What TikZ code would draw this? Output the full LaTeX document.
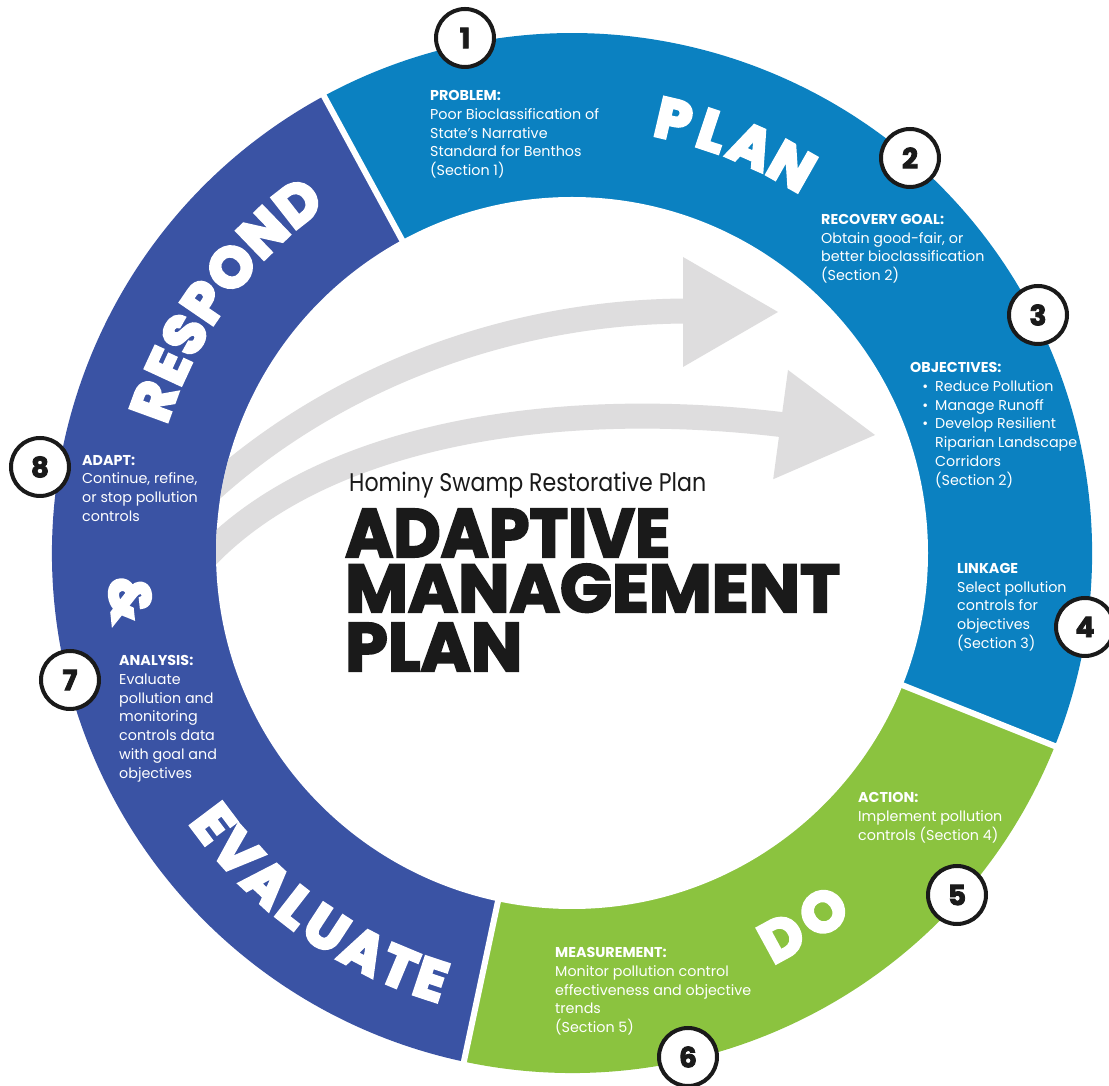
\documentclass[tikz,border=0pt]{standalone}
\usepackage{fontspec}
\setmainfont{Poppins}
\newfontfamily\ringfont{Poppins}[FakeBold=6]
\newfontfamily\titlefont{Poppins}[FakeBold=3]
\usepackage{graphicx}
\usetikzlibrary{calc}
\definecolor{planblue}{HTML}{0B81C1}
\definecolor{darkblue}{HTML}{3A53A4}
\definecolor{dogreen}{HTML}{8BC33F}
\definecolor{arrowgray}{HTML}{DEDDDE}
\definecolor{ink}{HTML}{1A1A1A}
\begin{document}
\begin{tikzpicture}[x=1pt,y=1pt,
  txt/.style={anchor=north west, inner sep=0pt, align=left, text=white, font=\fontsize{14.3}{18.7}\selectfont},
  num/.style={circle, draw=ink, line width=4pt, fill=white, minimum size=58pt, inner sep=0pt, font=\titlefont\bfseries\fontsize{28}{28}\selectfont, text=ink},
  ringword/.style={inner sep=0pt, text=white, font=\ringfont\bfseries\fontsize{56}{56}\selectfont},
  sepline/.style={white, line width=6pt},
  shaft/.style={arrowgray, line width=25pt},
  head/.style={fill=arrowgray},
  title/.style={inner sep=0pt, anchor=base west, text=ink},
]
\useasboundingbox (0,0) rectangle (1109,1085);
\coordinate (C) at (572,532);
% ring sectors
\fill[planblue] (C) -- ++(-21.8:520) arc[start angle=-21.8, end angle=118.5, radius=520] -- cycle;
\fill[darkblue] (C) -- ++(118.5:520) arc[start angle=118.5, end angle=258, radius=520] -- cycle;
\fill[dogreen] (C) -- ++(258:520) arc[start angle=258, end angle=338.2, radius=520] -- cycle;
\fill[white] (C) circle[radius=356];
% gray arrows
\begin{scope}
\clip (C) circle[radius=356];
\draw[shaft] (190,575) .. controls (300,685) and (480,774) .. (690,774);
\fill[head] (683,828) -- (778,773) -- (683,718) -- cycle;
\draw[shaft] (190,510) .. controls (300,645) and (540,690) .. (785,660);
\fill[head] (788,715) -- (875,650) -- (773.2,605.8) -- cycle;
\end{scope}
% separators
\foreach \a in {118.5,-21.8,258} \draw[sepline] ($(C)+(\a:350)$) -- ($(C)+(\a:526)$);
% ring words
\foreach \l/\a [count=\i] in {P/76.8, L/71.6, A/66.2, N/60.4}
  \node[ringword, rotate={\a-90}] (plan\i) at ($(C)+(\a:445)$) {\l};
\foreach \l/\a [count=\i] in {R/160, E/155.16, S/150.55, P/145.64, O/140.03, N/133.96, D/128.08}
  \node[ringword, rotate={\a-90}] (resp\i) at ($(C)+(\a:445)$) {\l};
\foreach \l/\a [count=\i] in {E/217, V/221.8, A/227.24, L/232.05, U/236.82, A/242.33, T/247.33, E/251.7}
  \node[ringword, rotate={\a+90}] (eval\i) at ($(C)+(\a:449)$) {\l};
\foreach \l/\a [count=\i] in {D/-61.4, O/-55}
  \node[ringword, rotate={\a+90}] (do\i) at ($(C)+(\a:438)$) {\l};
\node[ringword, rotate={186+90}] (amp) at ($(C)+(186:444)$) {\&};
% step texts
\node[txt] (t1) at (430,997.4) {\strut\textbf{PROBLEM:}\\Poor Bioclassification of\\State’s Narrative\\Standard for Benthos\\(Section 1)};
\node[txt] (t2) at (821,873.8) {\strut\textbf{RECOVERY GOAL:}\\Obtain good-fair, or\\better bioclassification\\(Section 2)};
\node[txt] (t3) at (910,725.4) {\strut\textbf{OBJECTIVES:}\\\makebox[25pt][r]{\textbullet\hspace{7pt}}Reduce Pollution\\\makebox[25pt][r]{\textbullet\hspace{7pt}}Manage Runoff\\\makebox[25pt][r]{\textbullet\hspace{7pt}}Develop Resilient\\\hspace*{25pt}Riparian Landscape\\\hspace*{25pt}Corridors\\\hspace*{25pt}(Section 2)};
\node[txt] (t4) at (957,524.8) {\strut\textbf{LINKAGE}\\Select pollution\\controls for\\objectives\\(Section 3)};
\node[txt] (t5) at (858,295.4) {\strut\textbf{ACTION:}\\Implement pollution\\controls (Section 4)};
\node[txt] (t6) at (555,140.4) {\strut\textbf{MEASUREMENT:}\\Monitor pollution control\\effectiveness and objective\\trends\\(Section 5)};
\node[txt] (t7) at (119,432.4) {\strut\textbf{ANALYSIS:}\\Evaluate\\pollution and\\monitoring\\controls data\\with goal and\\objectives};
\node[txt] (t8) at (82,633.1) {\strut\textbf{ADAPT:}\\Continue, refine,\\or stop pollution\\controls};
% centre title
\node[title] (sub) at (349,593.3) {\resizebox{357pt}{19.4pt}{Hominy Swamp Restorative Plan}};
\node[title] (ti1) at (345,528) {\resizebox{325pt}{48pt}{\titlefont\bfseries ADAPTIVE}};
\node[title] (ti2) at (345,473) {\resizebox{495pt}{48pt}{\titlefont\bfseries MANAGEMENT}};
\node[title] (ti3) at (345,414) {\resizebox{177pt}{48pt}{\titlefont\bfseries PLAN}};
% number badges
\node[num] (n1) at (465,1047) {1};
\node[num] (n2) at (910,927) {2};
\node[num] (n3) at (1038,770) {3};
\node[num] (n4) at (1085,458) {4};
\node[num] (n5) at (957,190) {5};
\node[num] (n6) at (688,28) {6};
\node[num] (n7) at (70,405) {7};
\node[num] (n8) at (40,618) {8};
\end{tikzpicture}
\end{document}
